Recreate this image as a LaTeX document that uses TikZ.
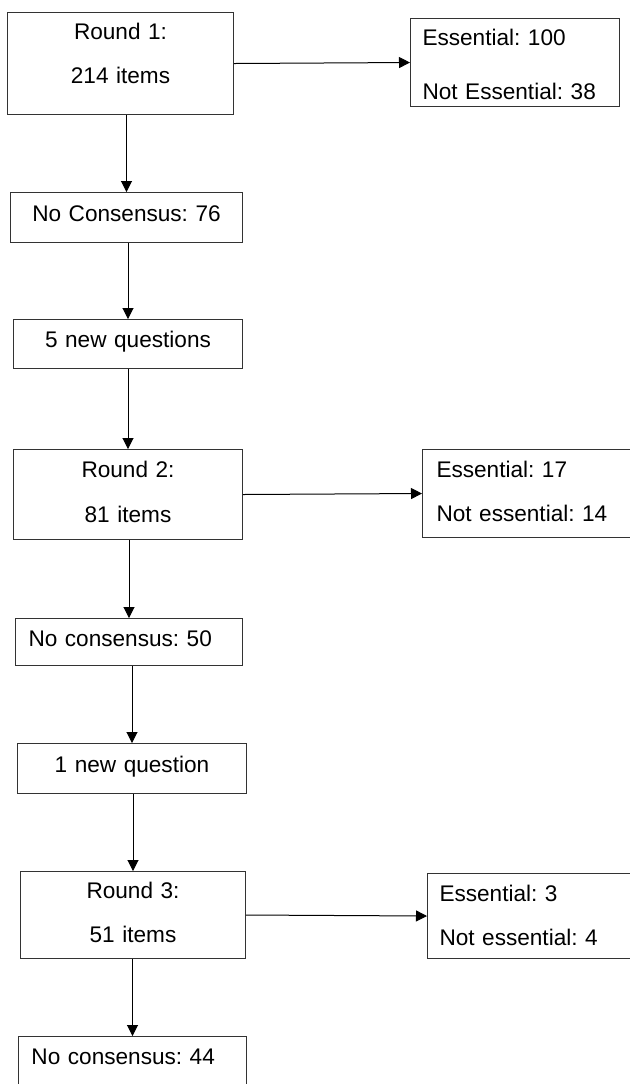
\documentclass[tikz,border=0pt]{standalone}
\usepackage{fontspec}
\setmainfont{Liberation Sans}
\frenchspacing
\usetikzlibrary{arrows.meta}
\tikzstyle{box} = [draw=black!80, line width=0.5pt, anchor=north west, inner ysep=0pt, inner xsep=0pt, align=center, font=\fontsize{11.3}{22}\selectfont]
\tikzstyle{leftbox} = [box, align=left]
\tikzstyle{arrow} = [line width=0.5pt, -{Triangle[length=5.5pt, width=5.5pt]}]

\begin{document}
\begin{tikzpicture}[x=0.5pt, y=-0.5pt]
	\clip (0,0) rectangle (630,1084);
	% round 1
	\node[box, text width=113pt, text height=13.5pt, text depth=37.5pt](r1) at (7,12){Round 1:\\214 items};
	\node[leftbox, inner xsep=6pt, text width=92.5pt, text height=13.5pt, text depth=30.5pt, font=\fontsize{11.3}{27}\selectfont](e1) at (410,18){Essential: 100\\Not Essential: 38};
	\node[box, text width=116pt, text height=14.5pt, text depth=10.5pt](nc1) at (10,192){No Consensus: 76};
	\node[box, text width=114.5pt, text height=14pt, text depth=10.5pt](q1) at (13,319){5 new questions};
	\draw[arrow](r1.east) -- (e1.west);
	\draw[arrow](r1.south -| nc1.north) -- (nc1.north);
	\draw[arrow](nc1.south -| q1.north) -- (q1.north);

	% round 2
	\node[box, text width=114.5pt, text height=14pt, text depth=31pt, font=\fontsize{11.3}{22.5}\selectfont](r2) at (13,449){Round 2:\\81 items};
	\node[leftbox, inner xsep=7pt, text width=90.5pt, text height=14pt, text depth=30pt](e2) at (422,449){Essential: 17\\Not essential: 14};
	\node[leftbox, inner xsep=6.5pt, text width=100.5pt, text height=14pt, text depth=9.5pt](nc2) at (15,618){No consensus: 50};
	\node[box, text width=114.5pt, text height=14.5pt, text depth=10.5pt](q2) at (17,743){1 new question};
	\draw[arrow](q1.south -| r2.north) -- (r2.north);
	\draw[arrow](r2.east) -- (e2.west);
	\draw[arrow](r2.south -| nc2.north) -- (nc2.north);
	\draw[arrow](nc2.south -| q2.north) -- (q2.north);

	% round 3
	\node[box, text width=112.5pt, text height=13.5pt, text depth=30pt](r3) at (20,871){Round 3:\\51 items};
	\node[leftbox, inner xsep=6pt, text width=90pt, text height=14pt, text depth=28.5pt](e3) at (427,873){Essential: 3\\Not essential: 4};
	\node[leftbox, inner xsep=6.5pt, text width=101pt, text height=14pt, text depth=15pt](nc3) at (18,1036){No consensus: 44};
	\draw[arrow](q2.south -| r3.north) -- (r3.north);
	\draw[arrow](r3.east) -- (e3.west);
	\draw[arrow](r3.south -| nc3.north) -- (nc3.north);
\end{tikzpicture}
\end{document}
